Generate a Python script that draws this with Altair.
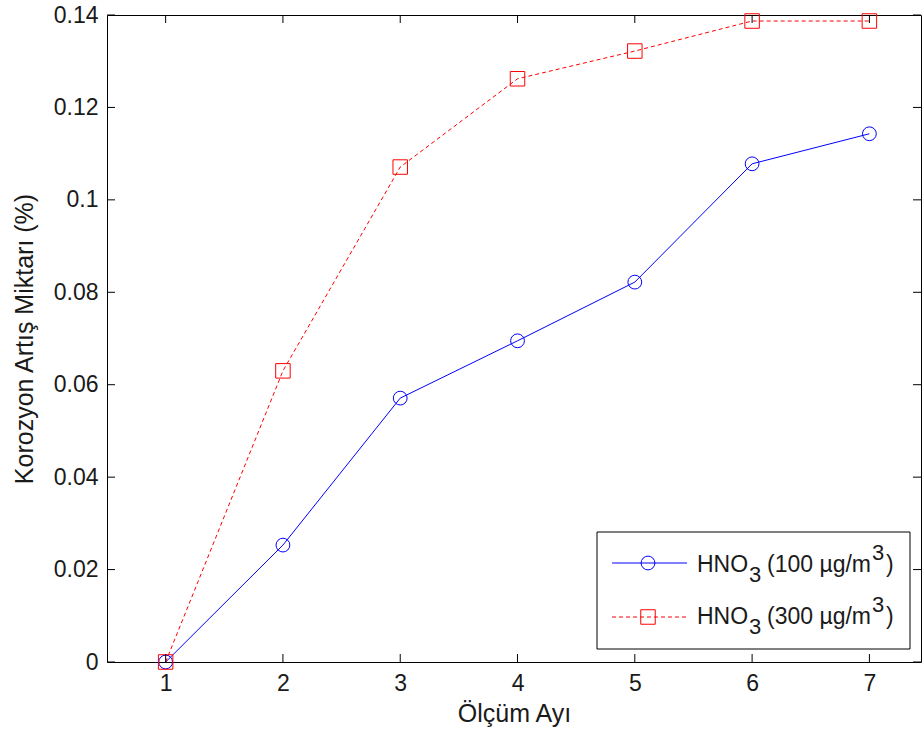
import altair as alt
import pandas as pd

# ---- data ----
months = [1, 2, 3, 4, 5, 6, 7]
hno3_100 = [0.0, 0.0253, 0.0571, 0.0695, 0.0822, 0.1078, 0.1143]
hno3_300 = [0.0, 0.0630, 0.1071, 0.1262, 0.1322, 0.1387, 0.1387]
x_ticks = [1, 2, 3, 4, 5, 6, 7]
y_ticks = [0.0, 0.02, 0.04, 0.06, 0.08, 0.10, 0.12, 0.14]
# legend text pieces: main, subscript, middle, superscript, closing
legend_rows = [
    ["HNO", "3", "(100 µg/m", "3", ")"],
    ["HNO", "3", "(300 µg/m", "3", ")"],
]
x_title = "Ölçüm Ayı"
y_title = "Korozyon Artış Miktarı (%)"

W, H = 814, 647
FONT = "Liberation Sans"
LFS = 23   # tick labels
TFS = 25   # axis titles
GFS = 23   # legend text
TXT = "#1a1a1a"

df100 = pd.DataFrame({"Ay": months, "Oran": hno3_100})
df300 = pd.DataFrame({"Ay": months, "Oran": hno3_300})
dfx = pd.DataFrame({"Ay": x_ticks})
dfy = pd.DataFrame({"Oran": y_ticks})
one = pd.DataFrame({"a": [0]})

xs = alt.Scale(domain=[0.5, 7.44], nice=False, zero=False)
ys = alt.Scale(domain=[0, 0.14], nice=False, zero=True)

xenc = alt.X("Ay:Q", scale=xs, axis=alt.Axis(
    values=x_ticks, format="d", ticks=False, domain=False, grid=False,
    labelPadding=10, labelFontSize=LFS, labelFont=FONT, labelColor=TXT,
    title=x_title, titleFontSize=TFS, titleFont=FONT, titleFontWeight="normal",
    titleColor=TXT, titlePadding=6))
yenc = alt.Y("Oran:Q", scale=ys, axis=alt.Axis(
    values=y_ticks, format=".2~f", ticks=False, domain=False, grid=False,
    labelPadding=9, labelFontSize=LFS, labelFont=FONT, labelColor=TXT,
    title=y_title, titleFontSize=TFS, titleFont=FONT, titleFontWeight="normal",
    titleColor=TXT, titlePadding=16))

blue_line = alt.Chart(df100).mark_line(color="#0000ff", strokeWidth=1).encode(x=xenc, y=yenc)
blue_pts = alt.Chart(df100).mark_point(shape="circle", filled=False, color="#0000ff",
                                        size=190, strokeWidth=1, opacity=1).encode(x="Ay:Q", y="Oran:Q")
red_line = alt.Chart(df300).mark_line(color="#ff0000", strokeWidth=1, strokeDash=[4, 3]).encode(x="Ay:Q", y="Oran:Q")
red_pts = alt.Chart(df300).mark_point(shape="square", filled=False, color="#ff0000",
                                       size=210, strokeWidth=1, opacity=1).encode(x="Ay:Q", y="Oran:Q")

TL = 8
tick_b = alt.Chart(dfx).mark_rule(color="black", strokeWidth=1).encode(x="Ay:Q", y=alt.value(H), y2=alt.value(H - TL))
tick_t = alt.Chart(dfx).mark_rule(color="black", strokeWidth=1).encode(x="Ay:Q", y=alt.value(0), y2=alt.value(TL))
tick_l = alt.Chart(dfy).mark_rule(color="black", strokeWidth=1).encode(y="Oran:Q", x=alt.value(0), x2=alt.value(TL))
tick_r = alt.Chart(dfy).mark_rule(color="black", strokeWidth=1).encode(y="Oran:Q", x=alt.value(W), x2=alt.value(W - TL))

# ---- legend box (decoration) ----
LX0, LX1, LY0, LY1 = 490, 803, 517, 634
ROW_Y = [548, 602]          # centre of symbol rows
BASE_Y = [557, 609]         # text baselines
box = alt.Chart(one).mark_rect(fill="white", stroke="black", strokeWidth=1).encode(
    x=alt.value(LX0), x2=alt.value(LX1), y=alt.value(LY0), y2=alt.value(LY1))
leg_blue_line = alt.Chart(one).mark_rule(color="#0000ff", strokeWidth=1).encode(
    x=alt.value(505), x2=alt.value(580), y=alt.value(ROW_Y[0]))
leg_blue_pt = alt.Chart(one).mark_point(shape="circle", filled=False, color="#0000ff",
                                        size=190, strokeWidth=1, opacity=1).encode(
    x=alt.value(541), y=alt.value(ROW_Y[0]))
leg_red_line = alt.Chart(one).mark_rule(color="#ff0000", strokeWidth=1, strokeDash=[4, 3]).encode(
    x=alt.value(505), x2=alt.value(580), y=alt.value(ROW_Y[1]))
leg_red_pt = alt.Chart(one).mark_point(shape="square", filled=False, color="#ff0000",
                                       size=210, strokeWidth=1, opacity=1).encode(
    x=alt.value(541), y=alt.value(ROW_Y[1]))

# x positions of the text pieces and their vertical shift (sub / superscript)
piece_x = [590, 642, 660, 765, 779]
piece_dy = [0, 10, 0, -12, 0]
text_layers = []
for r, pieces in enumerate(legend_rows):
    for k, s in enumerate(pieces):
        d = pd.DataFrame({"t": [s]})
        text_layers.append(
            alt.Chart(d).mark_text(align="left", baseline="alphabetic", font=FONT,
                                   fontSize=GFS if piece_dy[k] == 0 else GFS - 1, color=TXT).encode(
                x=alt.value(piece_x[k]), y=alt.value(BASE_Y[r] + piece_dy[k]), text="t:N"))

chart = alt.layer(
    blue_line, red_line, blue_pts, red_pts,
    tick_b, tick_t, tick_l, tick_r,
    box, leg_blue_line, leg_blue_pt, leg_red_line, leg_red_pt, *text_layers,
).properties(
    width=W, height=H,
    autosize=alt.AutoSizeParams(type="none"),
    padding={"left": 107, "top": 15, "right": 2, "bottom": 76},
    background="white",
).configure_view(stroke="black", strokeWidth=1)

chart.save("out.html", embed_options={"renderer": "svg", "actions": False})
